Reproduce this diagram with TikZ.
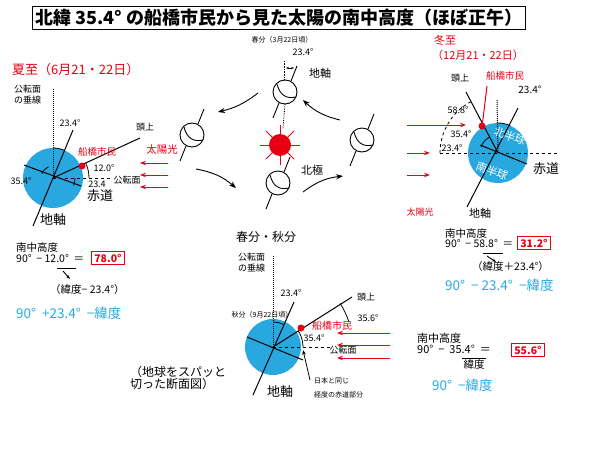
\documentclass[tikz,border=0pt]{standalone}
\usepackage{fontspec}
\setmainfont{Noto Sans CJK JP}
\usetikzlibrary{arrows.meta,calc}
\definecolor{ered}{HTML}{E60012}
\definecolor{eblue}{HTML}{29A8E0}
\newcommand\orbE[2]{%
 \draw[line width=0.9pt] (#1,#2) ellipse (12 and 12);
 \draw[line width=0.9pt] ($(#1,#2)+(-8,-8)$) ..controls ($(#1,#2)+(-5,4)$) and ($(#1,#2)+(2,7)$).. ($(#1,#2)+(11,5)$);
 \draw[line width=0.9pt] ($(#1,#2)+(6,-11)$) -- ($(#1,#2)+(12,-26)$);
 \draw[line width=0.9pt] ($(#1,#2)+(-6,11)$) -- ($(#1,#2)+(-12,26)$);}
\begin{document}
\begin{tikzpicture}[x=1pt,y=-1pt,
  lab/.style={font=\fontsize{9}{9}\selectfont,inner sep=0pt},
  fm/.style={font=\fontsize{10.5}{10.5}\selectfont,inner sep=0pt},
  sml/.style={font=\fontsize{7}{7}\selectfont,inner sep=0pt},
  big/.style={font=\fontsize{13}{13}\selectfont,inner sep=0pt},
  rl/.style={text=ered},
  bl/.style={text=eblue,font=\fontsize{13.5}{13.5}\selectfont,inner sep=0pt},
  ans/.style={draw=ered,line width=0.9pt,text=ered,font=\bfseries\fontsize{10.5}{10.5}\selectfont,inner sep=2.5pt},
  ln/.style={line width=1pt},
  dt/.style={densely dotted,line width=1pt},
  dsh/.style={dashed,line width=0.8pt},
  sun/.style={ered,line width=0.8pt,-{Stealth[length=6pt,open]}},
  orb/.style={line width=0.9pt,-{Stealth[length=7pt]}}]
\useasboundingbox (0,0) rectangle (600,452);
% title
\node[draw,line width=1pt,font=\bfseries\fontsize{18}{18}\selectfont,inner sep=3pt] (title) at (279,18) {北緯 35.4° の船橋市民から見た太陽の南中高度（ほぼ正午）};
%% summer
\node[rl,font=\fontsize{13}{13}\selectfont,anchor=west,inner sep=0pt] (sumt) at (12,70) {夏至（6月21・22日）};
\fill[eblue] (53,178) circle (30);
\draw[dt] (53,178) -- (53,88);
\draw[dsh] (53,178) -- (112,178);
\draw[ln] (33,226) -- (73,130);
\draw[ln] (24,165) -- (81,186);
\draw[ln] (53,178) -- (140,138);
\draw[line width=0.8pt] (53,148) arc[start angle=-90,end angle=-67,radius=30];
\draw[line width=0.8pt] ($(53,178)+(-25:36)$) arc[start angle=-25,end angle=0,radius=36];
\draw[line width=0.8pt] (75,178) arc[start angle=0,end angle=20,radius=22];
\draw[line width=0.8pt] ($(53,178)+(200:12)$) arc[start angle=200,end angle=248,radius=12];
\fill[ered] (82,166) circle (3.5);
\node[lab,align=left,anchor=west] (s1) at (14,95) {公転面\\[2pt]の垂線};
\node[lab] (s2) at (70,123) {23.4°};
\node[lab] (s3) at (145,127) {頭上};
\node[lab,rl,font=\fontsize{9.5}{9.5}\selectfont] (s4) at (97,152) {船橋市民};
\node[lab] (s5) at (104,168) {12.0°};
\node[lab,rl,font=\fontsize{10.5}{10.5}\selectfont] (s6) at (162,150) {太陽光};
\node[lab] (s7) at (127,180) {公転面};
\node[lab] (s8) at (97,184) {23.4};
\node[lab] (s9) at (21,181) {35.4°};
\node[big] (s10) at (100,196) {赤道};
\node[big] (s11) at (53,220) {地軸};
\foreach \yy in {163,175,187} \draw[sun] (168,\yy) -- (140,\yy);
%% summer formula
\node[fm,anchor=west] (f1) at (16,248) {南中高度};
\node[fm,anchor=west] (f2) at (16,259) {90°\ \ −\ 12.0°\ \ ＝};
\node[ans] (f3) at (108,258) {78.0°};
\draw[line width=0.8pt] (57,268) -- (76,268);
\draw[line width=0.9pt,-{Stealth[length=4pt]}] (63,271) -- (70,279);
\node[fm,anchor=west] (f4) at (50,290) {（緯度− 23.4°）};
\node[bl,anchor=west] (f5) at (16,313) {90°\ \ +23.4°\ \ −緯度};
%% orbit center
\orbE{285}{92}
\orbE{192}{135}
\orbE{278}{183}
\orbE{362}{140}
\draw[dt,line width=0.8pt] (285,104) -- (283,128);
\foreach \a in {0,45,...,315} \draw[ered,line width=0.8pt] (280,145) -- ++(\a:20);
\fill[ered] (280,145) circle (11);
\draw[orb] (258,93) to[bend left=12] (218,112);
\draw[orb] (196,169) to[bend left=15] (236,188);
\draw[orb] (303,192) to[bend left=15] (343,176);
\draw[orb] (340,120) to[bend left=15] (303,100);
\draw[dt,line width=0.6pt] (284,61) -- (284,80);
\draw[line width=0.6pt,{Stealth[length=3pt]}-{Stealth[length=3pt]}] (286,68) -- (294,68);
\node[sml] (o1) at (282,40) {春分（3月22日頃）};
\node[lab] (o2) at (303,52) {23.4°};
\node[lab,font=\fontsize{11}{11}\selectfont] (o3) at (320,73) {地軸};
\node[lab,font=\fontsize{11}{11}\selectfont] (o4) at (312,170) {北極};
\node[lab,font=\fontsize{12}{12}\selectfont] (o5) at (266,237) {春分・秋分};
%% winter
\node[rl,lab,font=\fontsize{11}{11}\selectfont,anchor=west] (w0) at (434,40) {冬至};
\node[rl,lab,font=\fontsize{11}{11}\selectfont,anchor=west] (w0b) at (432,55) {（12月21・22日）};
\fill[eblue] (498,153) circle (30);
\draw[dt] (498,153) -- (497,100);
\draw[dsh] (440,153) -- (557,153);
\draw[dsh] (440,153) arc[start angle=180,end angle=243,radius=58];
\draw[ln] (467,207) -- (518,108);
\draw[ln] (480,145) -- (527,164);
\draw[ln] (498,153) -- (466,92);
\draw[ered,line width=1pt] (487,86) -- (482,127);
\fill[ered] (482,126) circle (3.5);
\draw[line width=0.8pt] (498,123) arc[start angle=-90,end angle=-66,radius=30];
\draw[line width=0.8pt] ($(498,153)+(200:18)$) arc[start angle=200,end angle=240,radius=18];
\node[lab] (w1) at (460,78) {頭上};
\node[lab,rl,font=\fontsize{9.5}{9.5}\selectfont] (w2) at (505,76) {船橋市民};
\node[lab,font=\fontsize{10}{10}\selectfont] (w3) at (530,90) {23.4°};
\node[lab] (w4) at (458,110) {58.8°};
\node[lab] (w5) at (461,134) {35.4°};
\node[lab] (w6) at (452,148) {23.4°};
\node[lab,text=white,font=\fontsize{11}{11}\selectfont,rotate=-20] (w7) at (510,136) {北半球};
\node[lab,text=white,font=\fontsize{11}{11}\selectfont,rotate=-20] (w8) at (492,171) {南半球};
\node[big] (w9) at (546,169) {赤道};
\node[lab,font=\fontsize{11}{11}\selectfont] (w10) at (480,213) {地軸};
\node[lab,rl] (w11) at (420,212) {太陽光};
\draw[sun] (407,125) -- (466,125);
\draw[sun] (407,153) -- (430,153);
\draw[sun] (407,175) -- (430,175);
%% winter formula
\node[fm,anchor=west] (g1) at (445,234) {南中高度};
\node[fm,anchor=west] (g2) at (445,244) {90°\ \ −\ 58.8°\ \ ＝};
\node[ans] (g3) at (534,243) {31.2°};
\draw[line width=0.8pt] (483,253) -- (503,253);
\draw[line width=0.9pt,-{Stealth[length=4pt]}] (487,256) -- (496,262);
\node[fm,anchor=west] (g4) at (472,267) {（緯度＋23.4°）};
\node[bl,anchor=west] (g5) at (445,285) {90°\ \ − 23.4°\ \ −緯度};
%% equinox cross-section
\fill[eblue] (273,347) circle (28);
\draw[dt] (273,347) -- (273,255);
\draw[dsh] (273,347) -- (333,347);
\draw[ln] (253,395) -- (294,302);
\draw[ln] (247,337) -- (303,360);
\draw[ln] (273,347) -- (352,297);
\draw[line width=0.8pt] (273,322) arc[start angle=-90,end angle=-65,radius=25];
\draw[line width=0.8pt] (303,347) arc[start angle=0,end angle=-32,radius=30];
\draw[line width=0.8pt] ($(273,347)+(-33:80)$) arc[start angle=-33,end angle=-18,radius=80];
\fill[ered] (301,328) circle (3.5);
\draw[line width=0.8pt,-{Stealth[length=5pt]}] (310,380) -- (303,350);
\node[lab,align=left,anchor=west] (e1) at (238,263) {公転面\\[2pt]の垂線};
\node[lab] (e2) at (291,293) {23.4°};
\node[sml] (e3) at (262,315) {秋分（9月22日頃）};
\node[lab] (e4) at (366,297) {頭上};
\node[lab] (e5) at (368,318) {35.6°};
\node[lab,rl,font=\fontsize{10}{10}\selectfont] (e6) at (332,326) {船橋市民};
\node[lab] (e7) at (314,338) {35.4°};
\node[lab] (e8) at (343,350) {公転面};
\node[sml,anchor=west] (e9) at (314,381) {日本と同じ};
\node[sml,anchor=west] (e10) at (314,395) {経度の赤道部分};
\node[big] (e11) at (280,392) {地軸};
\node[lab,font=\fontsize{12}{12}\selectfont,align=left,anchor=west] (e12) at (130,378) {（地球をスパッと\\切った断面図）};
\foreach \yy in {333,345,358} \draw[sun] (390,\yy) -- (337,\yy);
%% equinox formula
\node[fm,anchor=west,font=\fontsize{11}{11}\selectfont] (h1) at (417,338) {南中高度};
\node[fm,anchor=west,font=\fontsize{11}{11}\selectfont] (h2) at (417,349) {90°\ \ −\ \ 35.4°\ \ ＝};
\node[ans] (h3) at (528,350) {55.6°};
\draw[line width=0.8pt] (462,358) -- (486,358);
\node[fm] (h4) at (474,365) {緯度};
\node[bl,anchor=west] (h5) at (432,385) {90°\ \ −緯度};
\end{tikzpicture}
\end{document}
